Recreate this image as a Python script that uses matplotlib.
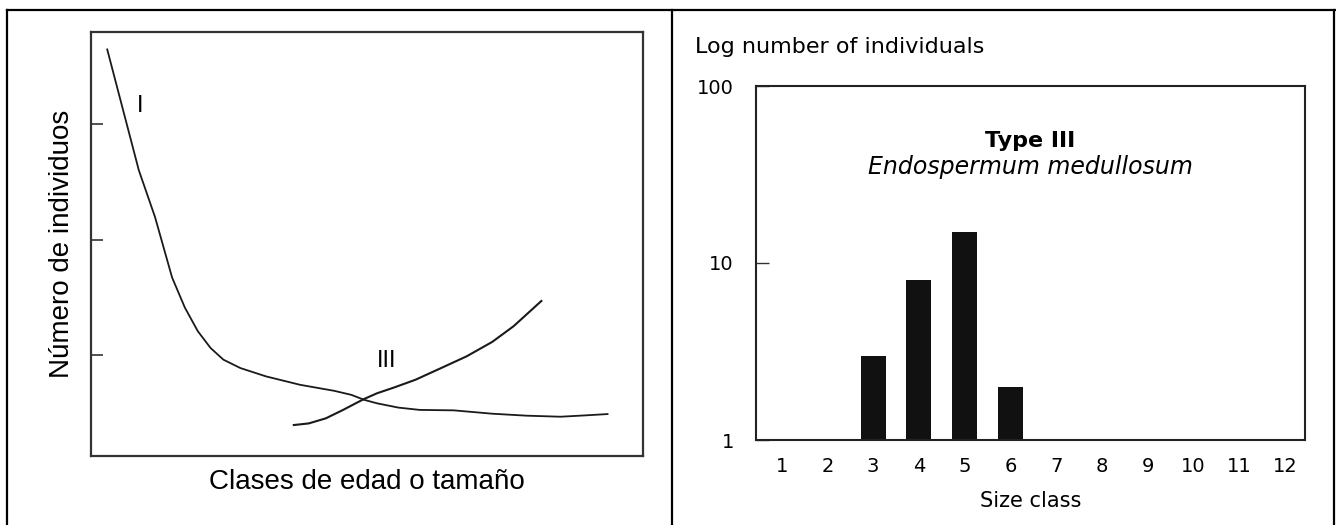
import numpy as np
import matplotlib
matplotlib.use("Agg")
import matplotlib.pyplot as plt
from matplotlib.lines import Line2D

# left panel: schematic survivorship curves (arbitrary units)
type1_x = [0.294, 0.866, 1.160, 1.469, 1.701, 1.934, 2.166, 2.398, 2.707, 3.171,
           3.790, 4.408, 4.718, 4.950, 5.182, 5.568, 5.955, 6.574, 7.270, 7.889,
           8.507, 8.971, 9.358]
type1_y = [3.649, 2.604, 2.198, 1.675, 1.414, 1.211, 1.065, 0.964, 0.891, 0.819,
           0.746, 0.694, 0.659, 0.616, 0.586, 0.549, 0.529, 0.525, 0.496, 0.479,
           0.470, 0.482, 0.493]
type3_x = [3.674, 3.944, 4.254, 4.563, 4.795, 4.950, 5.182, 5.491, 5.878, 6.342,
           6.806, 7.270, 7.657, 8.159]
type3_y = [0.398, 0.412, 0.456, 0.528, 0.586, 0.624, 0.673, 0.723, 0.790, 0.891,
           0.993, 1.118, 1.254, 1.472]
left_ticks = [1, 2, 3]

# right panel: Endospermum medullosum size classes
size_classes = list(range(1, 13))
counts = [0, 0, 3, 8, 15, 2, 0, 0, 0, 0, 0, 0]
log_ticks = [1, 10, 100]
log_labels = ["1", "10", "100"]

W, H = 1336, 525
fig = plt.figure(figsize=(W / 100, H / 100), dpi=100)
ink = "#1a1a1a"

# ---- left panel ----
axl = fig.add_axes([91 / W, 1 - 456 / H, 552 / W, 424 / H])
axl.plot(type1_x, type1_y, color=ink, lw=1.3, solid_joinstyle="round")
axl.plot(type3_x, type3_y, color=ink, lw=1.5, solid_joinstyle="round")
axl.set_xlim(0, 10)
axl.set_ylim(0.13, 3.8)
axl.set_xticks([])
axl.set_yticks(left_ticks)
axl.set_yticklabels([])
axl.tick_params(axis="y", direction="in", length=8.5, width=1.2, color="#333")
for s in axl.spines.values():
    s.set_linewidth(1.6)
    s.set_color("#333")
lf = ["Liberation Sans", "DejaVu Sans"]
axl.text(0.89, 3.16, "I", fontsize=17, family=lf, ha="center", va="center")
axl.text(5.36, 0.95, "III", fontsize=17, family=lf, ha="center", va="center")
axl.text(0.5, -0.0613, "Clases de edad o tamaño", transform=axl.transAxes,
         fontsize=20, family=lf, ha="center", va="center")
axl.text(-0.0525, 0.5, "Número de individuos", transform=axl.transAxes,
         fontsize=20, family=lf, ha="center", va="center", rotation=90)

# ---- right panel ----
axr = fig.add_axes([756 / W, 1 - 440 / H, 549 / W, 354 / H])
xs = np.array(size_classes)
ys = np.array(counts, dtype=float)
pos = ys > 0
axr.bar(xs[pos], ys[pos], width=0.55, color="#111111")
axr.set_yscale("log")
axr.set_ylim(1, 100)
axr.set_xlim(0.44, 12.44)
axr.set_yticks(log_ticks, log_labels)
axr.yaxis.set_minor_locator(matplotlib.ticker.NullLocator())
axr.set_xticks(size_classes, [str(c) for c in size_classes])
axr.tick_params(axis="x", length=0, pad=12, labelsize=14)
axr.tick_params(axis="y", direction="in", length=9, width=1.0, pad=16,
                labelsize=14, color="#333")
for s in axr.spines.values():
    s.set_linewidth(1.5)
    s.set_color("#222")
axr.text(-0.111, 1.11, "Log number of individuals", transform=axr.transAxes,
         fontsize=16, ha="left", va="center")
axr.text(0.5, -0.172, "Size class", transform=axr.transAxes,
         fontsize=15, ha="center", va="center")
axr.text(0.5, 0.845, "Type III", transform=axr.transAxes,
         fontsize=16, fontweight="bold", ha="center", va="center")
axr.text(0.5, 0.77, "Endospermum medullosum", transform=axr.transAxes,
         fontsize=17, style="italic", ha="center", va="center")

# ---- outer table frame ----
frame = [((7, 10), (7, H)), ((7, 10), (1335, 10)), ((1334, 10), (1334, H)),
         ((672, 10), (672, H))]
for (x0, y0), (x1, y1) in frame:
    fig.add_artist(Line2D([x0 / W, x1 / W], [1 - y0 / H, 1 - y1 / H],
                          transform=fig.transFigure, color="black", lw=1.6))

fig.savefig("out.png", dpi=100)
